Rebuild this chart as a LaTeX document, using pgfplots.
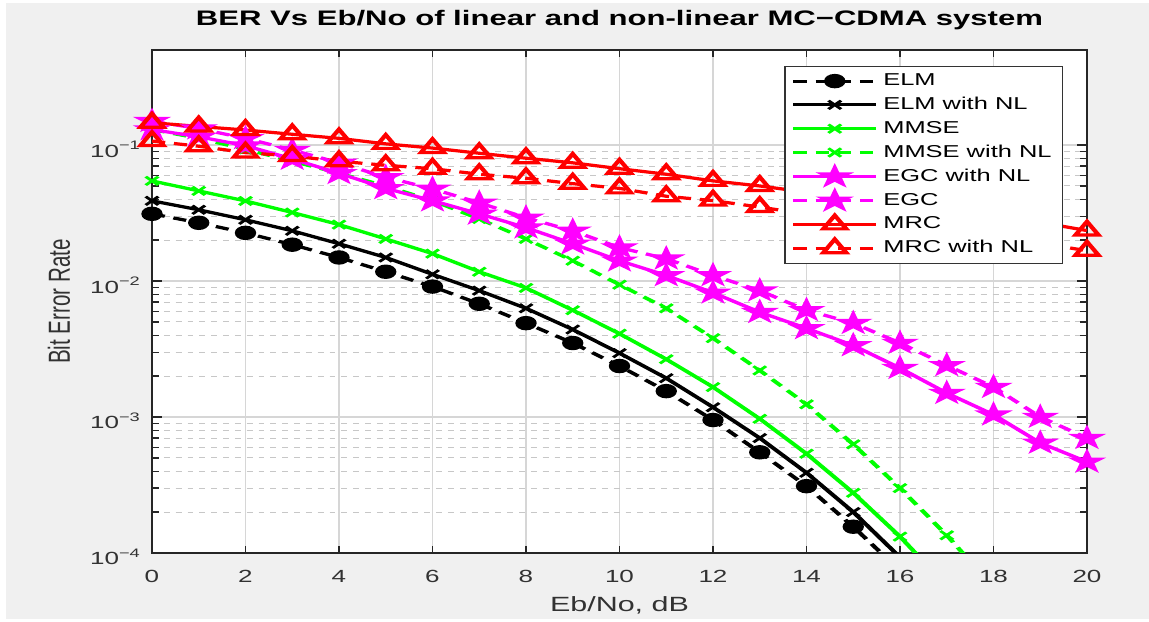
\documentclass[border=0pt]{standalone}
\usepackage{graphicx}
\usepackage{fontspec}
\setmainfont{Liberation Sans}
\usepackage{pgfplots}
\pgfplotsset{compat=1.18}

\definecolor{figgray}{RGB}{240,240,240}
\definecolor{tickgray}{RGB}{50,50,50}
\definecolor{mgreen}{RGB}{0,255,0}
\definecolor{mmag}{RGB}{255,0,255}
\definecolor{mred}{RGB}{255,0,0}

% filled five-pointed star
\pgfdeclareplotmark{pstar}{%
  \pgfpathmoveto{\pgfqpointpolar{90}{\pgfplotmarksize}}%
  \pgfpathlineto{\pgfqpointpolar{234}{\pgfplotmarksize}}%
  \pgfpathlineto{\pgfqpointpolar{18}{\pgfplotmarksize}}%
  \pgfpathlineto{\pgfqpointpolar{162}{\pgfplotmarksize}}%
  \pgfpathlineto{\pgfqpointpolar{306}{\pgfplotmarksize}}%
  \pgfpathclose
  \pgfusepathqfillstroke
}

\begin{document}
\scalebox{1.48}[1]{%
\begin{tikzpicture}
\fill[white] (-51.35pt,-33pt) rectangle (336.85pt,276.5pt);
\fill[figgray] (-49.3pt,-33pt) rectangle (336.85pt,275pt);
\begin{axis}[
  width=315.9pt, height=251.5pt, scale only axis,
  axis background/.style={fill=white},
  xmin=0, xmax=20, ymode=log, ymin=1e-4, ymax=0.5,
  xtick={0,2,...,20},
  ytick={1e-4,1e-3,1e-2,1e-1},
  yticklabels={10\textsuperscript{−4},10\textsuperscript{−3},10\textsuperscript{−2},10\textsuperscript{−1}},
  /pgf/number format/assume math mode=true,
  tick align=inside,
  major tick length=3.5pt, minor tick length=2.5pt,
  grid=both,
  major grid style={black!16, line width=0.6pt},
  minor grid style={black!22, dash pattern=on 2pt off 2pt, line width=0.5pt},
  axis line style={black!85, line width=0.6pt},
  tick style={black!85, line width=0.6pt},
  tick label style={font=\fontsize{8.8}{10}\selectfont, text=tickgray},
  xticklabel style={anchor=base, yshift=-15pt},
  yticklabel style={anchor=base east, inner sep=0pt, xshift=-3.4pt, yshift=-6pt},
  title={BER Vs Eb/No of linear and non-linear MC−CDMA system},
  title style={font=\fontsize{10.5}{12}\selectfont\bfseries, at={(axis description cs:0.5,1)}, anchor=base, yshift=6.3pt},
  xlabel={Eb/No, dB},
  ylabel={Bit Error Rate},
  label style={font=\fontsize{10.3}{12}\selectfont, text=tickgray},
  xlabel style={at={(axis description cs:0.5,0)}, anchor=base, yshift=-29.5pt},
  ylabel style={at={(axis description cs:0,0.5)}, anchor=base, yshift=27.7pt},
  legend style={at={(axis description cs:1,1)}, anchor=north east, xshift=-8.1pt, yshift=-8pt,
    draw=black!80, line width=0.5pt, fill=white, font=\fontsize{8.6}{10}\selectfont,
    inner sep=2pt, row sep=1.1pt, nodes={inner sep=1.6pt}},
  legend cell align=left,
  legend image code/.code={\draw[mark repeat=2,mark phase=2] plot coordinates {(0pt,0pt) (14pt,0pt) (28pt,0pt)};},
  every axis plot/.append style={line width=1.6pt},
]
% ELM
\addplot[color=black, dash pattern=on 4.5pt off 3pt, mark=*, mark size=2.8pt, mark options={solid}] coordinates {
 (0,0.0312) (1,0.0268) (2,0.0226) (3,0.0185) (4,0.0149) (5,0.0117) (6,0.0091) (7,0.0068) (8,0.0049)
 (9,0.0035) (10,0.00237) (11,0.00155) (12,0.00095) (13,0.00055) (14,0.00031) (15,0.000156) (16,0.000074) };
\addlegendentry{ELM}
% ELM with NL
\addplot[color=black, mark=x, mark size=3pt, mark options={solid, line width=1.2pt}] coordinates {
 (0,0.0389) (1,0.0334) (2,0.0282) (3,0.0234) (4,0.0188) (5,0.0149) (6,0.0112) (7,0.0085) (8,0.0063)
 (9,0.0044) (10,0.00295) (11,0.00193) (12,0.00118) (13,0.0007) (14,0.000389) (15,0.0002) (16,0.000093) };
\addlegendentry{ELM with NL}
% MMSE
\addplot[color=mgreen, mark=x, mark size=3pt, mark options={solid, line width=1.2pt}] coordinates {
 (0,0.0545) (1,0.046) (2,0.0388) (3,0.0319) (4,0.026) (5,0.0204) (6,0.0159) (7,0.0117) (8,0.0089)
 (9,0.0061) (10,0.0041) (11,0.00266) (12,0.00166) (13,0.00097) (14,0.000537) (15,0.000277) (16,0.000132) (17,0.000057) };
\addlegendentry{MMSE}
% MMSE with NL
\addplot[color=mgreen, dash pattern=on 4.5pt off 3pt, mark=x, mark size=3pt, mark options={solid, line width=1.2pt}] coordinates {
 (0,0.13) (1,0.112) (2,0.093) (3,0.076) (4,0.062) (5,0.05) (6,0.039) (7,0.0286) (8,0.0204)
 (9,0.0141) (10,0.0094) (11,0.0063) (12,0.0038) (13,0.0022) (14,0.00124) (15,0.00063) (16,0.0003) (17,0.000135) (18,0.000056) };
\addlegendentry{MMSE with NL}
% EGC with NL
\addplot[color=mmag, mark=pstar, mark size=5.5pt, mark options={solid, line width=0.8pt}] coordinates {
 (0,0.13) (1,0.115) (2,0.099) (3,0.079) (4,0.062) (5,0.048) (6,0.039) (7,0.0312) (8,0.0247)
 (9,0.0188) (10,0.0141) (11,0.011) (12,0.0082) (13,0.0059) (14,0.00449) (15,0.00336) (16,0.00229)
 (17,0.0015) (18,0.00104) (19,0.000645) (20,0.000468) };
\addlegendentry{EGC with NL}
% EGC
\addplot[color=mmag, dash pattern=on 4.5pt off 3pt, mark=pstar, mark size=5.5pt, mark options={solid, line width=0.8pt}] coordinates {
 (0,0.15) (1,0.132) (2,0.112) (3,0.092) (4,0.074) (5,0.058) (6,0.0476) (7,0.0376) (8,0.0292)
 (9,0.0234) (10,0.0176) (11,0.0146) (12,0.011) (13,0.0085) (14,0.0061) (15,0.0049) (16,0.0035)
 (17,0.0024) (18,0.00166) (19,0.001) (20,0.0007) };
\addlegendentry{EGC}
% MRC
\addplot[color=mred, mark=triangle, mark size=4.5pt, mark options={solid}] coordinates {
 (0,0.146) (1,0.137) (2,0.129) (3,0.12) (4,0.112) (5,0.102) (6,0.095) (7,0.087) (8,0.08)
 (9,0.074) (10,0.067) (11,0.061) (12,0.0545) (13,0.05) (14,0.045) (15,0.041) (16,0.037)
 (17,0.033) (18,0.03) (19,0.027) (20,0.0235) };
\addlegendentry{MRC}
% MRC with NL
\addplot[color=mred, dash pattern=on 4.5pt off 3pt, mark=triangle, mark size=4.5pt, mark options={solid}] coordinates {
 (0,0.107) (1,0.098) (2,0.088) (3,0.083) (4,0.076) (5,0.071) (6,0.067) (7,0.061) (8,0.057)
 (9,0.052) (10,0.048) (11,0.042) (12,0.039) (13,0.035) (14,0.031) (15,0.028) (16,0.025)
 (17,0.023) (18,0.021) (19,0.019) (20,0.0167) };
\addlegendentry{MRC with NL}
\end{axis}
\end{tikzpicture}}
\end{document}
